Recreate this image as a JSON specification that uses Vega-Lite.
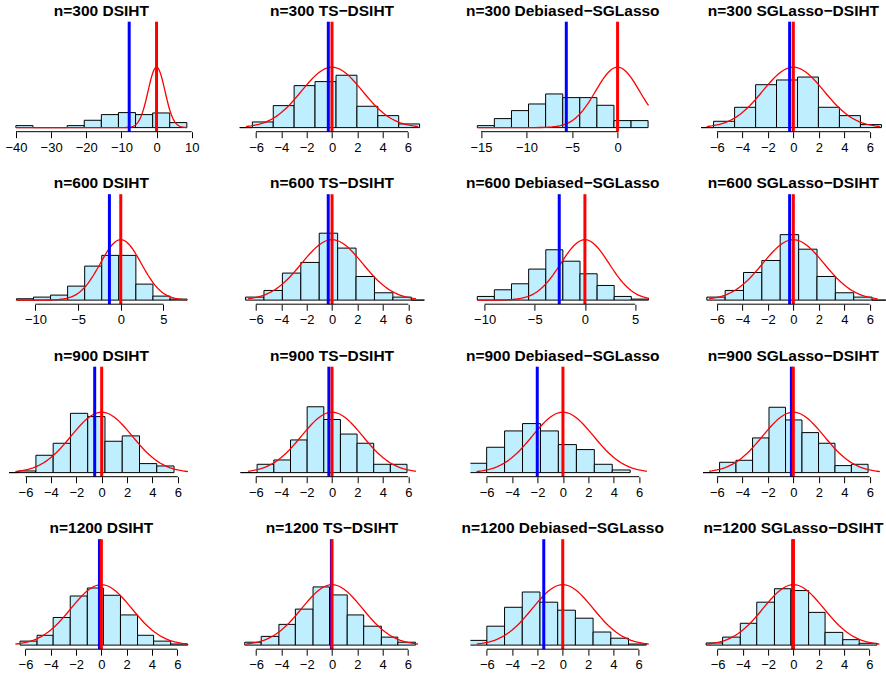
{
"$schema":"https://vega.github.io/schema/vega-lite/v6.json",
"background":"white",
"padding":{"left":4,"top":3.7,"right":0,"bottom":0},
"columns":4,
"spacing":{"row":62.5,"column":45.7},
"bounds":"flush",
"datasets":{
"bars":[
{"p":1,"x0":-40.04,"x1":-35.17,"h":0.0055},{"p":1,"x0":-35.17,"x1":-30.3,"h":0},{"p":1,"x0":-30.3,"x1":-25.44,"h":0},{"p":1,"x0":-25.44,"x1":-20.57,"h":0.0055},{"p":1,"x0":-20.57,"x1":-15.7,"h":0.0202},{"p":1,"x0":-15.7,"x1":-10.84,"h":0.0358},{"p":1,"x0":-10.84,"x1":-5.97,"h":0.0413},{"p":1,"x0":-5.97,"x1":-1.1,"h":0.0358},{"p":1,"x0":-1.1,"x1":3.76,"h":0.0403},{"p":1,"x0":3.76,"x1":8.63,"h":0.0138},
{"p":2,"x0":-7.94,"x1":-6.29,"h":0},{"p":2,"x0":-6.29,"x1":-4.64,"h":0.0156},{"p":2,"x0":-4.64,"x1":-2.99,"h":0.0605},{"p":2,"x0":-2.99,"x1":-1.34,"h":0.1155},{"p":2,"x0":-1.34,"x1":0.32,"h":0.1265},{"p":2,"x0":0.32,"x1":1.97,"h":0.144},{"p":2,"x0":1.97,"x1":3.62,"h":0.0587},{"p":2,"x0":3.62,"x1":5.27,"h":0.033},{"p":2,"x0":5.27,"x1":6.92,"h":0.0101},
{"p":3,"x0":-15.4,"x1":-13.53,"h":0.0055},{"p":3,"x0":-13.53,"x1":-11.65,"h":0.0248},{"p":3,"x0":-11.65,"x1":-9.78,"h":0.0468},{"p":3,"x0":-9.78,"x1":-7.9,"h":0.065},{"p":3,"x0":-7.9,"x1":-6.02,"h":0.0926},{"p":3,"x0":-6.02,"x1":-4.15,"h":0.0825},{"p":3,"x0":-4.15,"x1":-2.27,"h":0.0825},{"p":3,"x0":-2.27,"x1":-0.4,"h":0.0614},{"p":3,"x0":-0.4,"x1":1.48,"h":0.0193},{"p":3,"x0":1.48,"x1":3.35,"h":0.0193},
{"p":4,"x0":-7.91,"x1":-6.26,"h":0},{"p":4,"x0":-6.26,"x1":-4.61,"h":0.0174},{"p":4,"x0":-4.61,"x1":-2.96,"h":0.0559},{"p":4,"x0":-2.96,"x1":-1.32,"h":0.118},{"p":4,"x0":-1.32,"x1":0.33,"h":0.131},{"p":4,"x0":0.33,"x1":1.97,"h":0.139},{"p":4,"x0":1.97,"x1":3.62,"h":0.0559},{"p":4,"x0":3.62,"x1":5.27,"h":0.033},{"p":4,"x0":5.27,"x1":6.92,"h":0.0083},
{"p":5,"x0":-12.23,"x1":-10.23,"h":0.0037},{"p":5,"x0":-10.23,"x1":-8.23,"h":0.0083},{"p":5,"x0":-8.23,"x1":-6.23,"h":0.0138},{"p":5,"x0":-6.23,"x1":-4.23,"h":0.0385},{"p":5,"x0":-4.23,"x1":-2.23,"h":0.0935},{"p":5,"x0":-2.23,"x1":-0.23,"h":0.123},{"p":5,"x0":-0.23,"x1":1.77,"h":0.123},{"p":5,"x0":1.77,"x1":3.77,"h":0.044},{"p":5,"x0":3.77,"x1":5.77,"h":0.011},{"p":5,"x0":5.77,"x1":7.77,"h":0.0028},
{"p":6,"x0":-6.81,"x1":-5.36,"h":0.0083},{"p":6,"x0":-5.36,"x1":-3.91,"h":0.0266},{"p":6,"x0":-3.91,"x1":-2.46,"h":0.0743},{"p":6,"x0":-2.46,"x1":-1.01,"h":0.1036},{"p":6,"x0":-1.01,"x1":0.44,"h":0.184},{"p":6,"x0":0.44,"x1":1.89,"h":0.143},{"p":6,"x0":1.89,"x1":3.34,"h":0.065},{"p":6,"x0":3.34,"x1":4.79,"h":0.0202},{"p":6,"x0":4.79,"x1":6.24,"h":0.0083},{"p":6,"x0":6.24,"x1":7.69,"h":0},
{"p":7,"x0":-10.73,"x1":-9.03,"h":0.0101},{"p":7,"x0":-9.03,"x1":-7.32,"h":0.0284},{"p":7,"x0":-7.32,"x1":-5.61,"h":0.0449},{"p":7,"x0":-5.61,"x1":-3.9,"h":0.0853},{"p":7,"x0":-3.9,"x1":-2.2,"h":0.1384},{"p":7,"x0":-2.2,"x1":-0.49,"h":0.107},{"p":7,"x0":-0.49,"x1":1.22,"h":0.0724},{"p":7,"x0":1.22,"x1":2.92,"h":0.0403},{"p":7,"x0":2.92,"x1":4.63,"h":0.0101},{"p":7,"x0":4.63,"x1":6.34,"h":0.0028},
{"p":8,"x0":-6.79,"x1":-5.35,"h":0.0083},{"p":8,"x0":-5.35,"x1":-3.91,"h":0.0266},{"p":8,"x0":-3.91,"x1":-2.47,"h":0.076},{"p":8,"x0":-2.47,"x1":-1.03,"h":0.109},{"p":8,"x0":-1.03,"x1":0.42,"h":0.18},{"p":8,"x0":0.42,"x1":1.86,"h":0.14},{"p":8,"x0":1.86,"x1":3.3,"h":0.065},{"p":8,"x0":3.3,"x1":4.74,"h":0.0202},{"p":8,"x0":4.74,"x1":6.18,"h":0.0083},{"p":8,"x0":6.18,"x1":7.62,"h":0},
{"p":9,"x0":-7.9,"x1":-6.54,"h":0},{"p":9,"x0":-6.54,"x1":-5.18,"h":0.0046},{"p":9,"x0":-5.18,"x1":-3.82,"h":0.0477},{"p":9,"x0":-3.82,"x1":-2.46,"h":0.0807},{"p":9,"x0":-2.46,"x1":-1.1,"h":0.163},{"p":9,"x0":-1.1,"x1":0.26,"h":0.154},{"p":9,"x0":0.26,"x1":1.62,"h":0.0862},{"p":9,"x0":1.62,"x1":2.98,"h":0.101},{"p":9,"x0":2.98,"x1":4.34,"h":0.0248},{"p":9,"x0":4.34,"x1":5.7,"h":0.0183},
{"p":10,"x0":-7.21,"x1":-5.9,"h":0},{"p":10,"x0":-5.9,"x1":-4.58,"h":0.0229},{"p":10,"x0":-4.58,"x1":-3.27,"h":0.0348},{"p":10,"x0":-3.27,"x1":-1.96,"h":0.0898},{"p":10,"x0":-1.96,"x1":-0.65,"h":0.181},{"p":10,"x0":-0.65,"x1":0.66,"h":0.146},{"p":10,"x0":0.66,"x1":1.97,"h":0.106},{"p":10,"x0":1.97,"x1":3.28,"h":0.0807},{"p":10,"x0":3.28,"x1":4.59,"h":0.0229},{"p":10,"x0":4.59,"x1":5.9,"h":0.0229},
{"p":11,"x0":-7.42,"x1":-6.0,"h":0.0257},{"p":11,"x0":-6.0,"x1":-4.59,"h":0.0697},{"p":11,"x0":-4.59,"x1":-3.18,"h":0.1146},{"p":11,"x0":-3.18,"x1":-1.77,"h":0.1348},{"p":11,"x0":-1.77,"x1":-0.36,"h":0.1146},{"p":11,"x0":-0.36,"x1":1.06,"h":0.077},{"p":11,"x0":1.06,"x1":2.47,"h":0.0633},{"p":11,"x0":2.47,"x1":3.88,"h":0.0229},{"p":11,"x0":3.88,"x1":5.29,"h":0.0073},
{"p":12,"x0":-7.09,"x1":-5.79,"h":0},{"p":12,"x0":-5.79,"x1":-4.5,"h":0.0284},{"p":12,"x0":-4.5,"x1":-3.2,"h":0.0339},{"p":12,"x0":-3.2,"x1":-1.91,"h":0.0954},{"p":12,"x0":-1.91,"x1":-0.61,"h":0.1797},{"p":12,"x0":-0.61,"x1":0.68,"h":0.1448},{"p":12,"x0":0.68,"x1":1.98,"h":0.11},{"p":12,"x0":1.98,"x1":3.27,"h":0.0807},{"p":12,"x0":3.27,"x1":4.56,"h":0.0193},{"p":12,"x0":4.56,"x1":5.87,"h":0.0229},
{"p":13,"x0":-6.43,"x1":-5.08,"h":0.011},{"p":13,"x0":-5.08,"x1":-3.81,"h":0.027},{"p":13,"x0":-3.81,"x1":-2.46,"h":0.076},{"p":13,"x0":-2.46,"x1":-1.11,"h":0.135},{"p":13,"x0":-1.11,"x1":0.16,"h":0.157},{"p":13,"x0":0.16,"x1":1.51,"h":0.137},{"p":13,"x0":1.51,"x1":2.86,"h":0.083},{"p":13,"x0":2.86,"x1":4.13,"h":0.027},{"p":13,"x0":4.13,"x1":5.48,"h":0.011},{"p":13,"x0":5.48,"x1":6.83,"h":0.003},
{"p":14,"x0":-6.9,"x1":-5.6,"h":0.008},{"p":14,"x0":-5.6,"x1":-4.2,"h":0.024},{"p":14,"x0":-4.2,"x1":-2.9,"h":0.057},{"p":14,"x0":-2.9,"x1":-1.5,"h":0.099},{"p":14,"x0":-1.5,"x1":-0.2,"h":0.16},{"p":14,"x0":-0.2,"x1":1.2,"h":0.138},{"p":14,"x0":1.2,"x1":2.5,"h":0.083},{"p":14,"x0":2.5,"x1":3.9,"h":0.052},{"p":14,"x0":3.9,"x1":5.2,"h":0.022},{"p":14,"x0":5.2,"x1":6.6,"h":0.008},
{"p":15,"x0":-7.4,"x1":-6.0,"h":0.013},{"p":15,"x0":-6.0,"x1":-4.6,"h":0.052},{"p":15,"x0":-4.6,"x1":-3.2,"h":0.104},{"p":15,"x0":-3.2,"x1":-1.8,"h":0.146},{"p":15,"x0":-1.8,"x1":-0.4,"h":0.118},{"p":15,"x0":-0.4,"x1":1.0,"h":0.096},{"p":15,"x0":1.0,"x1":2.4,"h":0.074},{"p":15,"x0":2.4,"x1":3.8,"h":0.036},{"p":15,"x0":3.8,"x1":5.2,"h":0.019},{"p":15,"x0":5.2,"x1":6.6,"h":0.003},
{"p":16,"x0":-6.9,"x1":-5.6,"h":0.006},{"p":16,"x0":-5.6,"x1":-4.2,"h":0.022},{"p":16,"x0":-4.2,"x1":-2.9,"h":0.06},{"p":16,"x0":-2.9,"x1":-1.5,"h":0.118},{"p":16,"x0":-1.5,"x1":-0.2,"h":0.155},{"p":16,"x0":-0.2,"x1":1.2,"h":0.15},{"p":16,"x0":1.2,"x1":2.5,"h":0.09},{"p":16,"x0":2.5,"x1":3.9,"h":0.035},{"p":16,"x0":3.9,"x1":5.2,"h":0.015},{"p":16,"x0":5.2,"x1":6.6,"h":0.005}
],
"curve":[
{"x":-40,"y":0},{"x":-35,"y":0},{"x":-30,"y":0},{"x":-25,"y":0},{"x":-20,"y":0},{"x":-15.4,"y":0},{"x":-14,"y":0},{"x":-12.2,"y":0},{"x":-11,"y":0},{"x":-10.7,"y":0},{"x":-10,"y":0},{"x":-9,"y":0.0001},{"x":-8.6,"y":0.0003},
{"x":-8,"y":0.0006},{"x":-7.8,"y":0.0008},{"x":-7.6,"y":0.0011},{"x":-7.4,"y":0.0014},{"x":-7.2,"y":0.0018},{"x":-7,"y":0.0024},{"x":-6.8,"y":0.003},{"x":-6.6,"y":0.0038},{"x":-6.4,"y":0.0047},{"x":-6.2,"y":0.0059},{"x":-6,"y":0.0073},{"x":-5.8,"y":0.009},{"x":-5.6,"y":0.0109},{"x":-5.4,"y":0.0132},{"x":-5.2,"y":0.0159},{"x":-5,"y":0.019},{"x":-4.8,"y":0.0225},{"x":-4.6,"y":0.0265},{"x":-4.4,"y":0.031},{"x":-4.2,"y":0.036},{"x":-4,"y":0.0414},{"x":-3.8,"y":0.0475},{"x":-3.6,"y":0.054},{"x":-3.4,"y":0.0609},{"x":-3.2,"y":0.0683},{"x":-3,"y":0.0761},{"x":-2.8,"y":0.0842},{"x":-2.6,"y":0.0924},{"x":-2.4,"y":0.1008},{"x":-2.2,"y":0.1092},{"x":-2,"y":0.1175},{"x":-1.8,"y":0.1255},{"x":-1.6,"y":0.1331},{"x":-1.4,"y":0.1402},{"x":-1.2,"y":0.1467},{"x":-1,"y":0.1524},{"x":-0.8,"y":0.1572},{"x":-0.6,"y":0.1611},{"x":-0.4,"y":0.1639},{"x":-0.2,"y":0.1657},
{"x":0,"y":0.1662},
{"x":0.2,"y":0.1657},{"x":0.4,"y":0.1639},{"x":0.6,"y":0.1611},{"x":0.8,"y":0.1572},{"x":1,"y":0.1524},{"x":1.2,"y":0.1467},{"x":1.4,"y":0.1402},{"x":1.6,"y":0.1331},{"x":1.8,"y":0.1255},{"x":2,"y":0.1175},{"x":2.2,"y":0.1092},{"x":2.4,"y":0.1008},{"x":2.6,"y":0.0924},{"x":2.8,"y":0.0842},{"x":3,"y":0.0761},{"x":3.2,"y":0.0683},{"x":3.4,"y":0.0609},{"x":3.6,"y":0.054},{"x":3.8,"y":0.0475},{"x":4,"y":0.0414},{"x":4.2,"y":0.036},{"x":4.4,"y":0.031},{"x":4.6,"y":0.0265},{"x":4.8,"y":0.0225},{"x":5,"y":0.019},{"x":5.2,"y":0.0159},{"x":5.4,"y":0.0132},{"x":5.6,"y":0.0109},{"x":5.8,"y":0.009},{"x":6,"y":0.0073},{"x":6.2,"y":0.0059},{"x":6.4,"y":0.0047},{"x":6.6,"y":0.0038},{"x":6.8,"y":0.003},{"x":7,"y":0.0024},{"x":7.2,"y":0.0018},{"x":7.4,"y":0.0014},{"x":7.6,"y":0.0011},{"x":7.8,"y":0.0008},{"x":8,"y":0.0006},{"x":8.6,"y":0.0003},{"x":9,"y":0.0001},{"x":10,"y":0}
],
"vl":[
{"p":1,"v":-7.78,"c":"blue"},{"p":1,"v":0,"c":"red"},
{"p":2,"v":-0.29,"c":"blue"},{"p":2,"v":0,"c":"red"},
{"p":3,"v":-5.63,"c":"blue"},{"p":3,"v":0,"c":"red"},
{"p":4,"v":-0.29,"c":"blue"},{"p":4,"v":0,"c":"red"},
{"p":5,"v":-1.33,"c":"blue"},{"p":5,"v":0,"c":"red"},
{"p":6,"v":-0.3,"c":"blue"},{"p":6,"v":0,"c":"red"},
{"p":7,"v":-2.56,"c":"blue"},{"p":7,"v":0,"c":"red"},
{"p":8,"v":-0.29,"c":"blue"},{"p":8,"v":0,"c":"red"},
{"p":9,"v":-0.55,"c":"blue"},{"p":9,"v":0,"c":"red"},
{"p":10,"v":-0.25,"c":"blue"},{"p":10,"v":0,"c":"red"},
{"p":11,"v":-2.02,"c":"blue"},{"p":11,"v":0,"c":"red"},
{"p":12,"v":-0.15,"c":"blue"},{"p":12,"v":0,"c":"red"},
{"p":13,"v":-0.15,"c":"blue"},{"p":13,"v":0,"c":"red"},
{"p":14,"v":-0.05,"c":"blue"},{"p":14,"v":0,"c":"red"},
{"p":15,"v":-1.5,"c":"blue"},{"p":15,"v":0,"c":"red"},
{"p":16,"v":-0.05,"c":"blue"},{"p":16,"v":0,"c":"red"}
],
"ax":[
{"p":1,"a":-40,"b":10},{"p":2,"a":-6,"b":6},{"p":3,"a":-15,"b":0},{"p":4,"a":-6,"b":6},
{"p":5,"a":-10,"b":5},{"p":6,"a":-6,"b":6},{"p":7,"a":-10,"b":5},{"p":8,"a":-6,"b":6},
{"p":9,"a":-6,"b":6},{"p":10,"a":-6,"b":6},{"p":11,"a":-6,"b":6},{"p":12,"a":-6,"b":6},
{"p":13,"a":-6,"b":6},{"p":14,"a":-6,"b":6},{"p":15,"a":-6,"b":6},{"p":16,"a":-6,"b":6}
]
},
"concat":[
{"title":"n=300 DSIHT","width":184.7,"height":110,"resolve":{"axis":{"x":"independent"}},"layer":[
{"data":{"name":"bars"},"transform":[{"filter":"datum.p==1"}],"mark":{"type":"rect","fill":"#BFEFFF","stroke":"black","strokeWidth":1,"clip":true},"encoding":{"x":{"field":"x0","type":"quantitative","scale":{"domain":[-41.99,10.58],"nice":false,"zero":false},"axis":{"values":[-40,-30,-20,-10,0,10],"title":null}},"x2":{"field":"x1"},"y":{"field":"h","type":"quantitative","scale":{"domain":[-0.0112,0.2912],"nice":false,"zero":false},"axis":null},"y2":{"datum":0}}},
{"data":{"name":"curve"},"transform":[{"filter":"datum.x>=-40.1 && datum.x<=8.63"}],"mark":{"type":"line","color":"red","strokeWidth":1.3,"clip":true},"encoding":{"x":{"field":"x","type":"quantitative","axis":null},"y":{"field":"y","type":"quantitative","axis":null}}},
{"data":{"name":"vl"},"transform":[{"filter":"datum.p==1"}],"mark":{"type":"rule","strokeWidth":3},"encoding":{"x":{"field":"v","type":"quantitative","axis":null},"color":{"field":"c","type":"nominal","scale":null}}},
{"data":{"name":"ax"},"transform":[{"filter":"datum.p==1"}],"mark":{"type":"rule","color":"black","strokeWidth":1},"encoding":{"x":{"field":"a","type":"quantitative","axis":null},"x2":{"field":"b"},"y":{"datum":-0.0112,"type":"quantitative","axis":null}}}
]},
{"title":"n=300 TS−DSIHT","width":184.7,"height":110,"resolve":{"axis":{"x":"independent"}},"layer":[
{"data":{"name":"bars"},"transform":[{"filter":"datum.p==2"}],"mark":{"type":"rect","fill":"#BFEFFF","stroke":"black","strokeWidth":1,"clip":true},"encoding":{"x":{"field":"x0","type":"quantitative","scale":{"domain":[-7.29,7.3],"nice":false,"zero":false},"axis":{"values":[-6,-4,-2,0,2,4,6],"title":null}},"x2":{"field":"x1"},"y":{"field":"h","type":"quantitative","scale":{"domain":[-0.0112,0.2912],"nice":false,"zero":false},"axis":null},"y2":{"datum":0}}},
{"data":{"name":"curve"},"transform":[{"filter":"datum.x>=-6.8 && datum.x<=6.9"}],"mark":{"type":"line","color":"red","strokeWidth":1.3,"clip":true},"encoding":{"x":{"field":"x","type":"quantitative","axis":null},"y":{"field":"y","type":"quantitative","axis":null}}},
{"data":{"name":"vl"},"transform":[{"filter":"datum.p==2"}],"mark":{"type":"rule","strokeWidth":3},"encoding":{"x":{"field":"v","type":"quantitative","axis":null},"color":{"field":"c","type":"nominal","scale":null}}},
{"data":{"name":"ax"},"transform":[{"filter":"datum.p==2"}],"mark":{"type":"rule","color":"black","strokeWidth":1},"encoding":{"x":{"field":"a","type":"quantitative","axis":null},"x2":{"field":"b"},"y":{"datum":-0.0112,"type":"quantitative","axis":null}}}
]},
{"title":"n=300 Debiased−SGLasso","width":184.7,"height":110,"resolve":{"axis":{"x":"independent"}},"layer":[
{"data":{"name":"bars"},"transform":[{"filter":"datum.p==3"}],"mark":{"type":"rect","fill":"#BFEFFF","stroke":"black","strokeWidth":1,"clip":true},"encoding":{"x":{"field":"x0","type":"quantitative","scale":{"domain":[-16.16,4.12],"nice":false,"zero":false},"axis":{"values":[-15,-10,-5,0],"title":null}},"x2":{"field":"x1"},"y":{"field":"h","type":"quantitative","scale":{"domain":[-0.0112,0.2912],"nice":false,"zero":false},"axis":null},"y2":{"datum":0}}},
{"data":{"name":"curve"},"transform":[{"filter":"datum.x>=-15.4 && datum.x<=3.4"}],"mark":{"type":"line","color":"red","strokeWidth":1.3,"clip":true},"encoding":{"x":{"field":"x","type":"quantitative","axis":null},"y":{"field":"y","type":"quantitative","axis":null}}},
{"data":{"name":"vl"},"transform":[{"filter":"datum.p==3"}],"mark":{"type":"rule","strokeWidth":3},"encoding":{"x":{"field":"v","type":"quantitative","axis":null},"color":{"field":"c","type":"nominal","scale":null}}},
{"data":{"name":"ax"},"transform":[{"filter":"datum.p==3"}],"mark":{"type":"rule","color":"black","strokeWidth":1},"encoding":{"x":{"field":"a","type":"quantitative","axis":null},"x2":{"field":"b"},"y":{"datum":-0.0112,"type":"quantitative","axis":null}}}
]},
{"title":"n=300 SGLasso−DSIHT","width":184.7,"height":110,"resolve":{"axis":{"x":"independent"}},"layer":[
{"data":{"name":"bars"},"transform":[{"filter":"datum.p==4"}],"mark":{"type":"rect","fill":"#BFEFFF","stroke":"black","strokeWidth":1,"clip":true},"encoding":{"x":{"field":"x0","type":"quantitative","scale":{"domain":[-7.24,7.26],"nice":false,"zero":false},"axis":{"values":[-6,-4,-2,0,2,4,6],"title":null}},"x2":{"field":"x1"},"y":{"field":"h","type":"quantitative","scale":{"domain":[-0.0112,0.2912],"nice":false,"zero":false},"axis":null},"y2":{"datum":0}}},
{"data":{"name":"curve"},"transform":[{"filter":"datum.x>=-6.8 && datum.x<=6.8"}],"mark":{"type":"line","color":"red","strokeWidth":1.3,"clip":true},"encoding":{"x":{"field":"x","type":"quantitative","axis":null},"y":{"field":"y","type":"quantitative","axis":null}}},
{"data":{"name":"vl"},"transform":[{"filter":"datum.p==4"}],"mark":{"type":"rule","strokeWidth":3},"encoding":{"x":{"field":"v","type":"quantitative","axis":null},"color":{"field":"c","type":"nominal","scale":null}}},
{"data":{"name":"ax"},"transform":[{"filter":"datum.p==4"}],"mark":{"type":"rule","color":"black","strokeWidth":1},"encoding":{"x":{"field":"a","type":"quantitative","axis":null},"x2":{"field":"b"},"y":{"datum":-0.0112,"type":"quantitative","axis":null}}}
]},
{"title":"n=600 DSIHT","width":184.7,"height":110,"resolve":{"axis":{"x":"independent"}},"layer":[
{"data":{"name":"bars"},"transform":[{"filter":"datum.p==5"}],"mark":{"type":"rect","fill":"#BFEFFF","stroke":"black","strokeWidth":1,"clip":true},"encoding":{"x":{"field":"x0","type":"quantitative","scale":{"domain":[-13.1,8.55],"nice":false,"zero":false},"axis":{"values":[-10,-5,0,5],"title":null}},"x2":{"field":"x1"},"y":{"field":"h","type":"quantitative","scale":{"domain":[-0.0112,0.2912],"nice":false,"zero":false},"axis":null},"y2":{"datum":0}}},
{"data":{"name":"curve"},"transform":[{"filter":"datum.x>=-12.2 && datum.x<=7.8"}],"mark":{"type":"line","color":"red","strokeWidth":1.3,"clip":true},"encoding":{"x":{"field":"x","type":"quantitative","axis":null},"y":{"field":"y","type":"quantitative","axis":null}}},
{"data":{"name":"vl"},"transform":[{"filter":"datum.p==5"}],"mark":{"type":"rule","strokeWidth":3},"encoding":{"x":{"field":"v","type":"quantitative","axis":null},"color":{"field":"c","type":"nominal","scale":null}}},
{"data":{"name":"ax"},"transform":[{"filter":"datum.p==5"}],"mark":{"type":"rule","color":"black","strokeWidth":1},"encoding":{"x":{"field":"a","type":"quantitative","axis":null},"x2":{"field":"b"},"y":{"datum":-0.0112,"type":"quantitative","axis":null}}}
]},
{"title":"n=600 TS−DSIHT","width":184.7,"height":110,"resolve":{"axis":{"x":"independent"}},"layer":[
{"data":{"name":"bars"},"transform":[{"filter":"datum.p==6"}],"mark":{"type":"rect","fill":"#BFEFFF","stroke":"black","strokeWidth":1,"clip":true},"encoding":{"x":{"field":"x0","type":"quantitative","scale":{"domain":[-7.27,7.27],"nice":false,"zero":false},"axis":{"values":[-6,-4,-2,0,2,4,6],"title":null}},"x2":{"field":"x1"},"y":{"field":"h","type":"quantitative","scale":{"domain":[-0.0112,0.2912],"nice":false,"zero":false},"axis":null},"y2":{"datum":0}}},
{"data":{"name":"curve"},"transform":[{"filter":"datum.x>=-6.7 && datum.x<=6.7"}],"mark":{"type":"line","color":"red","strokeWidth":1.3,"clip":true},"encoding":{"x":{"field":"x","type":"quantitative","axis":null},"y":{"field":"y","type":"quantitative","axis":null}}},
{"data":{"name":"vl"},"transform":[{"filter":"datum.p==6"}],"mark":{"type":"rule","strokeWidth":3},"encoding":{"x":{"field":"v","type":"quantitative","axis":null},"color":{"field":"c","type":"nominal","scale":null}}},
{"data":{"name":"ax"},"transform":[{"filter":"datum.p==6"}],"mark":{"type":"rule","color":"black","strokeWidth":1},"encoding":{"x":{"field":"a","type":"quantitative","axis":null},"x2":{"field":"b"},"y":{"datum":-0.0112,"type":"quantitative","axis":null}}}
]},
{"title":"n=600 Debiased−SGLasso","width":184.7,"height":110,"resolve":{"axis":{"x":"independent"}},"layer":[
{"data":{"name":"bars"},"transform":[{"filter":"datum.p==7"}],"mark":{"type":"rect","fill":"#BFEFFF","stroke":"black","strokeWidth":1,"clip":true},"encoding":{"x":{"field":"x0","type":"quantitative","scale":{"domain":[-11.42,7.0],"nice":false,"zero":false},"axis":{"values":[-10,-5,0,5],"title":null}},"x2":{"field":"x1"},"y":{"field":"h","type":"quantitative","scale":{"domain":[-0.0112,0.2912],"nice":false,"zero":false},"axis":null},"y2":{"datum":0}}},
{"data":{"name":"curve"},"transform":[{"filter":"datum.x>=-10.7 && datum.x<=6.4"}],"mark":{"type":"line","color":"red","strokeWidth":1.3,"clip":true},"encoding":{"x":{"field":"x","type":"quantitative","axis":null},"y":{"field":"y","type":"quantitative","axis":null}}},
{"data":{"name":"vl"},"transform":[{"filter":"datum.p==7"}],"mark":{"type":"rule","strokeWidth":3},"encoding":{"x":{"field":"v","type":"quantitative","axis":null},"color":{"field":"c","type":"nominal","scale":null}}},
{"data":{"name":"ax"},"transform":[{"filter":"datum.p==7"}],"mark":{"type":"rule","color":"black","strokeWidth":1},"encoding":{"x":{"field":"a","type":"quantitative","axis":null},"x2":{"field":"b"},"y":{"datum":-0.0112,"type":"quantitative","axis":null}}}
]},
{"title":"n=600 SGLasso−DSIHT","width":184.7,"height":110,"resolve":{"axis":{"x":"independent"}},"layer":[
{"data":{"name":"bars"},"transform":[{"filter":"datum.p==8"}],"mark":{"type":"rect","fill":"#BFEFFF","stroke":"black","strokeWidth":1,"clip":true},"encoding":{"x":{"field":"x0","type":"quantitative","scale":{"domain":[-7.24,7.26],"nice":false,"zero":false},"axis":{"values":[-6,-4,-2,0,2,4,6],"title":null}},"x2":{"field":"x1"},"y":{"field":"h","type":"quantitative","scale":{"domain":[-0.0112,0.2912],"nice":false,"zero":false},"axis":null},"y2":{"datum":0}}},
{"data":{"name":"curve"},"transform":[{"filter":"datum.x>=-6.7 && datum.x<=6.7"}],"mark":{"type":"line","color":"red","strokeWidth":1.3,"clip":true},"encoding":{"x":{"field":"x","type":"quantitative","axis":null},"y":{"field":"y","type":"quantitative","axis":null}}},
{"data":{"name":"vl"},"transform":[{"filter":"datum.p==8"}],"mark":{"type":"rule","strokeWidth":3},"encoding":{"x":{"field":"v","type":"quantitative","axis":null},"color":{"field":"c","type":"nominal","scale":null}}},
{"data":{"name":"ax"},"transform":[{"filter":"datum.p==8"}],"mark":{"type":"rule","color":"black","strokeWidth":1},"encoding":{"x":{"field":"a","type":"quantitative","axis":null},"x2":{"field":"b"},"y":{"datum":-0.0112,"type":"quantitative","axis":null}}}
]},
{"title":"n=900 DSIHT","width":184.7,"height":110,"resolve":{"axis":{"x":"independent"}},"layer":[
{"data":{"name":"bars"},"transform":[{"filter":"datum.p==9"}],"mark":{"type":"rect","fill":"#BFEFFF","stroke":"black","strokeWidth":1,"clip":true},"encoding":{"x":{"field":"x0","type":"quantitative","scale":{"domain":[-7.3,7.25],"nice":false,"zero":false},"axis":{"values":[-6,-4,-2,0,2,4,6],"title":null}},"x2":{"field":"x1"},"y":{"field":"h","type":"quantitative","scale":{"domain":[-0.0112,0.2912],"nice":false,"zero":false},"axis":null},"y2":{"datum":0}}},
{"data":{"name":"curve"},"transform":[{"filter":"datum.x>=-6.8 && datum.x<=6.8"}],"mark":{"type":"line","color":"red","strokeWidth":1.3,"clip":true},"encoding":{"x":{"field":"x","type":"quantitative","axis":null},"y":{"field":"y","type":"quantitative","axis":null}}},
{"data":{"name":"vl"},"transform":[{"filter":"datum.p==9"}],"mark":{"type":"rule","strokeWidth":3},"encoding":{"x":{"field":"v","type":"quantitative","axis":null},"color":{"field":"c","type":"nominal","scale":null}}},
{"data":{"name":"ax"},"transform":[{"filter":"datum.p==9"}],"mark":{"type":"rule","color":"black","strokeWidth":1},"encoding":{"x":{"field":"a","type":"quantitative","axis":null},"x2":{"field":"b"},"y":{"datum":-0.0112,"type":"quantitative","axis":null}}}
]},
{"title":"n=900 TS−DSIHT","width":184.7,"height":110,"resolve":{"axis":{"x":"independent"}},"layer":[
{"data":{"name":"bars"},"transform":[{"filter":"datum.p==10"}],"mark":{"type":"rect","fill":"#BFEFFF","stroke":"black","strokeWidth":1,"clip":true},"encoding":{"x":{"field":"x0","type":"quantitative","scale":{"domain":[-7.27,7.27],"nice":false,"zero":false},"axis":{"values":[-6,-4,-2,0,2,4,6],"title":null}},"x2":{"field":"x1"},"y":{"field":"h","type":"quantitative","scale":{"domain":[-0.0112,0.2912],"nice":false,"zero":false},"axis":null},"y2":{"datum":0}}},
{"data":{"name":"curve"},"transform":[{"filter":"datum.x>=-6.7 && datum.x<=6.7"}],"mark":{"type":"line","color":"red","strokeWidth":1.3,"clip":true},"encoding":{"x":{"field":"x","type":"quantitative","axis":null},"y":{"field":"y","type":"quantitative","axis":null}}},
{"data":{"name":"vl"},"transform":[{"filter":"datum.p==10"}],"mark":{"type":"rule","strokeWidth":3},"encoding":{"x":{"field":"v","type":"quantitative","axis":null},"color":{"field":"c","type":"nominal","scale":null}}},
{"data":{"name":"ax"},"transform":[{"filter":"datum.p==10"}],"mark":{"type":"rule","color":"black","strokeWidth":1},"encoding":{"x":{"field":"a","type":"quantitative","axis":null},"x2":{"field":"b"},"y":{"datum":-0.0112,"type":"quantitative","axis":null}}}
]},
{"title":"n=900 Debiased−SGLasso","width":184.7,"height":110,"resolve":{"axis":{"x":"independent"}},"layer":[
{"data":{"name":"bars"},"transform":[{"filter":"datum.p==11"}],"mark":{"type":"rect","fill":"#BFEFFF","stroke":"black","strokeWidth":1,"clip":true},"encoding":{"x":{"field":"x0","type":"quantitative","scale":{"domain":[-7.28,7.25],"nice":false,"zero":false},"axis":{"values":[-6,-4,-2,0,2,4,6],"title":null}},"x2":{"field":"x1"},"y":{"field":"h","type":"quantitative","scale":{"domain":[-0.0112,0.2912],"nice":false,"zero":false},"axis":null},"y2":{"datum":0}}},
{"data":{"name":"curve"},"transform":[{"filter":"datum.x>=-6.8 && datum.x<=6.7"}],"mark":{"type":"line","color":"red","strokeWidth":1.3,"clip":true},"encoding":{"x":{"field":"x","type":"quantitative","axis":null},"y":{"field":"y","type":"quantitative","axis":null}}},
{"data":{"name":"vl"},"transform":[{"filter":"datum.p==11"}],"mark":{"type":"rule","strokeWidth":3},"encoding":{"x":{"field":"v","type":"quantitative","axis":null},"color":{"field":"c","type":"nominal","scale":null}}},
{"data":{"name":"ax"},"transform":[{"filter":"datum.p==11"}],"mark":{"type":"rule","color":"black","strokeWidth":1},"encoding":{"x":{"field":"a","type":"quantitative","axis":null},"x2":{"field":"b"},"y":{"datum":-0.0112,"type":"quantitative","axis":null}}}
]},
{"title":"n=900 SGLasso−DSIHT","width":184.7,"height":110,"resolve":{"axis":{"x":"independent"}},"layer":[
{"data":{"name":"bars"},"transform":[{"filter":"datum.p==12"}],"mark":{"type":"rect","fill":"#BFEFFF","stroke":"black","strokeWidth":1,"clip":true},"encoding":{"x":{"field":"x0","type":"quantitative","scale":{"domain":[-7.24,7.26],"nice":false,"zero":false},"axis":{"values":[-6,-4,-2,0,2,4,6],"title":null}},"x2":{"field":"x1"},"y":{"field":"h","type":"quantitative","scale":{"domain":[-0.0112,0.2912],"nice":false,"zero":false},"axis":null},"y2":{"datum":0}}},
{"data":{"name":"curve"},"transform":[{"filter":"datum.x>=-6.7 && datum.x<=6.8"}],"mark":{"type":"line","color":"red","strokeWidth":1.3,"clip":true},"encoding":{"x":{"field":"x","type":"quantitative","axis":null},"y":{"field":"y","type":"quantitative","axis":null}}},
{"data":{"name":"vl"},"transform":[{"filter":"datum.p==12"}],"mark":{"type":"rule","strokeWidth":3},"encoding":{"x":{"field":"v","type":"quantitative","axis":null},"color":{"field":"c","type":"nominal","scale":null}}},
{"data":{"name":"ax"},"transform":[{"filter":"datum.p==12"}],"mark":{"type":"rule","color":"black","strokeWidth":1},"encoding":{"x":{"field":"a","type":"quantitative","axis":null},"x2":{"field":"b"},"y":{"datum":-0.0112,"type":"quantitative","axis":null}}}
]},
{"title":"n=1200 DSIHT","width":184.7,"height":110,"resolve":{"axis":{"x":"independent"}},"layer":[
{"data":{"name":"bars"},"transform":[{"filter":"datum.p==13"}],"mark":{"type":"rect","fill":"#BFEFFF","stroke":"black","strokeWidth":1,"clip":true},"encoding":{"x":{"field":"x0","type":"quantitative","scale":{"domain":[-7.3,7.3],"nice":false,"zero":false},"axis":{"values":[-6,-4,-2,0,2,4,6],"title":null}},"x2":{"field":"x1"},"y":{"field":"h","type":"quantitative","scale":{"domain":[-0.0112,0.2912],"nice":false,"zero":false},"axis":null},"y2":{"datum":0}}},
{"data":{"name":"curve"},"transform":[{"filter":"datum.x>=-6.8 && datum.x<=6.8"}],"mark":{"type":"line","color":"red","strokeWidth":1.3,"clip":true},"encoding":{"x":{"field":"x","type":"quantitative","axis":null},"y":{"field":"y","type":"quantitative","axis":null}}},
{"data":{"name":"vl"},"transform":[{"filter":"datum.p==13"}],"mark":{"type":"rule","strokeWidth":3},"encoding":{"x":{"field":"v","type":"quantitative","axis":null},"color":{"field":"c","type":"nominal","scale":null}}},
{"data":{"name":"ax"},"transform":[{"filter":"datum.p==13"}],"mark":{"type":"rule","color":"black","strokeWidth":1},"encoding":{"x":{"field":"a","type":"quantitative","axis":null},"x2":{"field":"b"},"y":{"datum":-0.0112,"type":"quantitative","axis":null}}}
]},
{"title":"n=1200 TS−DSIHT","width":184.7,"height":110,"resolve":{"axis":{"x":"independent"}},"layer":[
{"data":{"name":"bars"},"transform":[{"filter":"datum.p==14"}],"mark":{"type":"rect","fill":"#BFEFFF","stroke":"black","strokeWidth":1,"clip":true},"encoding":{"x":{"field":"x0","type":"quantitative","scale":{"domain":[-7.3,7.3],"nice":false,"zero":false},"axis":{"values":[-6,-4,-2,0,2,4,6],"title":null}},"x2":{"field":"x1"},"y":{"field":"h","type":"quantitative","scale":{"domain":[-0.0112,0.2912],"nice":false,"zero":false},"axis":null},"y2":{"datum":0}}},
{"data":{"name":"curve"},"transform":[{"filter":"datum.x>=-6.8 && datum.x<=6.8"}],"mark":{"type":"line","color":"red","strokeWidth":1.3,"clip":true},"encoding":{"x":{"field":"x","type":"quantitative","axis":null},"y":{"field":"y","type":"quantitative","axis":null}}},
{"data":{"name":"vl"},"transform":[{"filter":"datum.p==14"}],"mark":{"type":"rule","strokeWidth":3},"encoding":{"x":{"field":"v","type":"quantitative","axis":null},"color":{"field":"c","type":"nominal","scale":null}}},
{"data":{"name":"ax"},"transform":[{"filter":"datum.p==14"}],"mark":{"type":"rule","color":"black","strokeWidth":1},"encoding":{"x":{"field":"a","type":"quantitative","axis":null},"x2":{"field":"b"},"y":{"datum":-0.0112,"type":"quantitative","axis":null}}}
]},
{"title":"n=1200 Debiased−SGLasso","width":184.7,"height":110,"resolve":{"axis":{"x":"independent"}},"layer":[
{"data":{"name":"bars"},"transform":[{"filter":"datum.p==15"}],"mark":{"type":"rect","fill":"#BFEFFF","stroke":"black","strokeWidth":1,"clip":true},"encoding":{"x":{"field":"x0","type":"quantitative","scale":{"domain":[-7.3,7.3],"nice":false,"zero":false},"axis":{"values":[-6,-4,-2,0,2,4,6],"title":null}},"x2":{"field":"x1"},"y":{"field":"h","type":"quantitative","scale":{"domain":[-0.0112,0.2912],"nice":false,"zero":false},"axis":null},"y2":{"datum":0}}},
{"data":{"name":"curve"},"transform":[{"filter":"datum.x>=-6.8 && datum.x<=6.8"}],"mark":{"type":"line","color":"red","strokeWidth":1.3,"clip":true},"encoding":{"x":{"field":"x","type":"quantitative","axis":null},"y":{"field":"y","type":"quantitative","axis":null}}},
{"data":{"name":"vl"},"transform":[{"filter":"datum.p==15"}],"mark":{"type":"rule","strokeWidth":3},"encoding":{"x":{"field":"v","type":"quantitative","axis":null},"color":{"field":"c","type":"nominal","scale":null}}},
{"data":{"name":"ax"},"transform":[{"filter":"datum.p==15"}],"mark":{"type":"rule","color":"black","strokeWidth":1},"encoding":{"x":{"field":"a","type":"quantitative","axis":null},"x2":{"field":"b"},"y":{"datum":-0.0112,"type":"quantitative","axis":null}}}
]},
{"title":"n=1200 SGLasso−DSIHT","width":184.7,"height":110,"resolve":{"axis":{"x":"independent"}},"layer":[
{"data":{"name":"bars"},"transform":[{"filter":"datum.p==16"}],"mark":{"type":"rect","fill":"#BFEFFF","stroke":"black","strokeWidth":1,"clip":true},"encoding":{"x":{"field":"x0","type":"quantitative","scale":{"domain":[-7.3,7.3],"nice":false,"zero":false},"axis":{"values":[-6,-4,-2,0,2,4,6],"title":null}},"x2":{"field":"x1"},"y":{"field":"h","type":"quantitative","scale":{"domain":[-0.0112,0.2912],"nice":false,"zero":false},"axis":null},"y2":{"datum":0}}},
{"data":{"name":"curve"},"transform":[{"filter":"datum.x>=-6.8 && datum.x<=6.8"}],"mark":{"type":"line","color":"red","strokeWidth":1.3,"clip":true},"encoding":{"x":{"field":"x","type":"quantitative","axis":null},"y":{"field":"y","type":"quantitative","axis":null}}},
{"data":{"name":"vl"},"transform":[{"filter":"datum.p==16"}],"mark":{"type":"rule","strokeWidth":3},"encoding":{"x":{"field":"v","type":"quantitative","axis":null},"color":{"field":"c","type":"nominal","scale":null}}},
{"data":{"name":"ax"},"transform":[{"filter":"datum.p==16"}],"mark":{"type":"rule","color":"black","strokeWidth":1},"encoding":{"x":{"field":"a","type":"quantitative","axis":null},"x2":{"field":"b"},"y":{"datum":-0.0112,"type":"quantitative","axis":null}}}
]}
],
"config":{
"view":{"stroke":null},
"font":"Liberation Sans",
"title":{"fontSize":15.5,"fontWeight":"bold","color":"black","anchor":"middle","frame":"group","baseline":"alphabetic","offset":1},
"axis":{"domain":false,"grid":false,"tickColor":"black","tickSize":6,"tickWidth":1,"labelColor":"black","labelFontSize":13,"labelPadding":3.5,"labelFlush":false,"labelOverlap":false,"labelFont":"Liberation Sans"}
}
}
